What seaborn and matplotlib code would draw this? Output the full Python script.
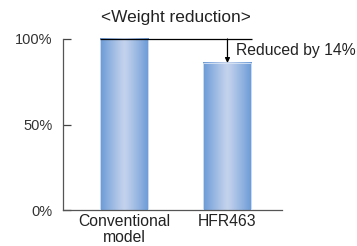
import numpy as np
import pandas as pd
import seaborn as sns
import matplotlib.pyplot as plt
from matplotlib.colors import LinearSegmentedColormap

models = ['Conventional\nmodel', 'HFR463']
weight_pct = [100, 86]
tick_vals = [0, 50, 100]
tick_labels = ['0%', '50%', '100%']
note = 'Reduced by 14%'

df = pd.DataFrame({'model': models, 'weight': weight_pct})

sns.set_style('white')
plt.rcParams['font.family'] = ['Liberation Sans', 'DejaVu Sans']

fig = plt.figure(figsize=(3.57, 2.46), dpi=100)
ax = fig.add_axes([0.1765, 0.1463, 0.6135, 0.6952])

sns.barplot(data=df, x='model', y='weight', width=0.464, color='#8fb0e0', ax=ax)

# gradient fill: darker blue at the edges, light in the middle
cmap = LinearSegmentedColormap.from_list('bar', ['#6a9ad6', '#c4d3ed'])
grad = 1 - np.abs(np.linspace(-1, 1, 256)) ** 1.1
for p in ax.patches:
    x0, w, h = p.get_x(), p.get_width(), p.get_height()
    ax.imshow(grad[np.newaxis, :], cmap=cmap, aspect='auto',
              extent=[x0, x0 + w, 0, h], zorder=2, clip_on=False)
    p.set_facecolor('none')
    p.set_edgecolor('#dbe6f6')
    p.set_linewidth(0.6)
    p.set_zorder(3)

ax.set_xlim(-0.589, 1.527)
ax.set_ylim(0, 100)

ax.set_yticks(tick_vals)
ax.set_yticklabels(tick_labels, fontsize=10.5, color='#333333')
ax.tick_params(axis='y', direction='in', length=6, width=0.9, color='#444444', pad=7.5, left=True)
ax.tick_params(axis='x', length=0, pad=3, labelsize=11.3, labelcolor='#222222')
for lab in ax.get_xticklabels():
    lab.set_linespacing(1.05)
ax.set_xlabel('')
ax.set_ylabel('')

for s in ['top', 'right']:
    ax.spines[s].set_visible(False)
for s in ['left', 'bottom']:
    ax.spines[s].set_color('#555555')
    ax.spines[s].set_linewidth(0.9)

# reference line across both bars and the arrow
bars = ax.patches
left_edge = bars[0].get_x()
right_edge = bars[1].get_x() + bars[1].get_width()
ax.hlines(weight_pct[0], left_edge, right_edge + 0.005, color='black', linewidth=0.9, clip_on=False, zorder=4)
xa = bars[1].get_x() + bars[1].get_width() / 2
ax.annotate('', xy=(xa, weight_pct[1]), xytext=(xa, weight_pct[0]),
            arrowprops=dict(arrowstyle='-|>', color='black', lw=0.9, mutation_scale=7,
                            shrinkA=0, shrinkB=0), annotation_clip=False, zorder=4)
ax.text(xa + 0.085, 93, note, fontsize=11.3, color='#222222', ha='left', va='center', clip_on=False)

fig.text(0.494, 0.927, '<Weight reduction>', fontsize=12.4, color='#222222', ha='center', va='center')

fig.savefig('out.png', dpi=100)
